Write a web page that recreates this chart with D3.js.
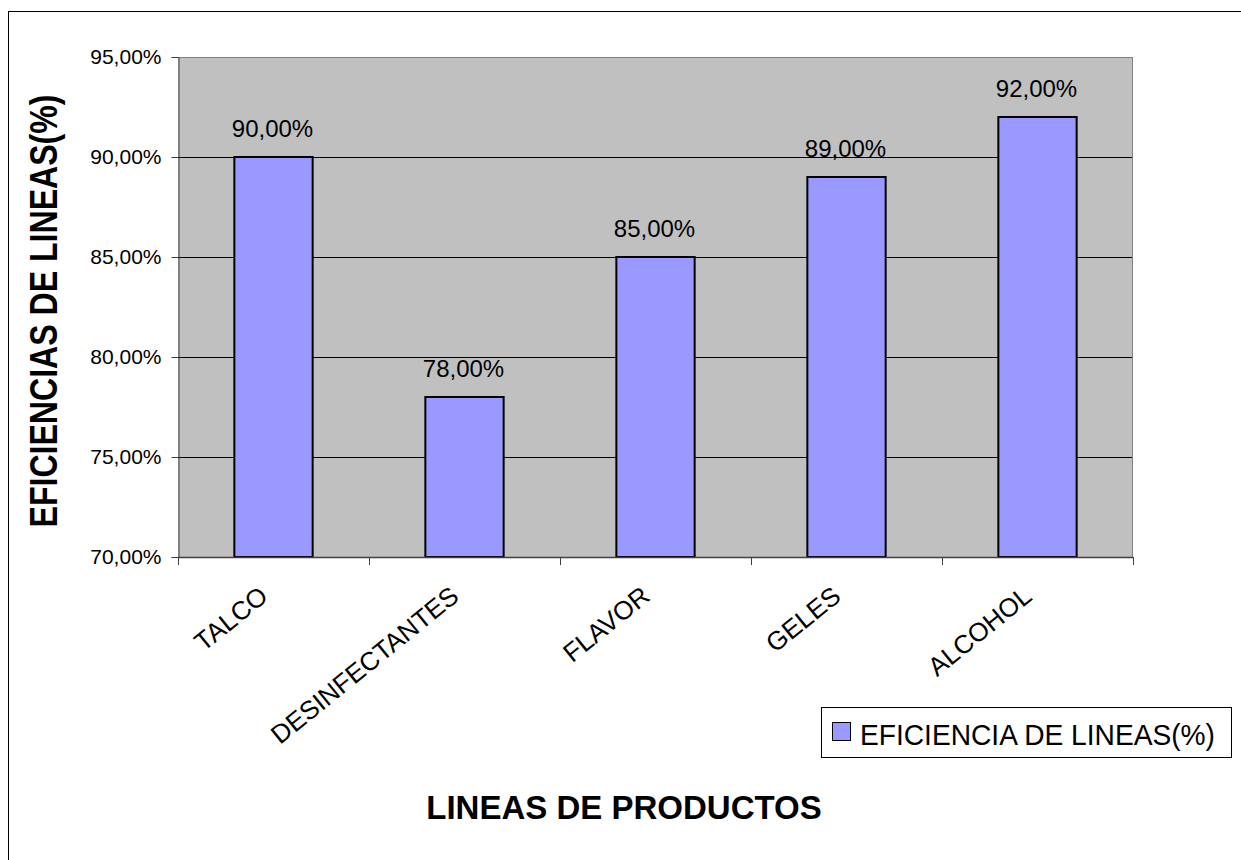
<!DOCTYPE html>
<html>
<head>
<meta charset="utf-8">
<script src="https://cdn.jsdelivr.net/npm/d3@7"></script>
<style>
  html, body { margin: 0; padding: 0; background: #fff; }
  svg { display: block; font-family: "Liberation Sans", Arial, sans-serif; }
</style>
</head>
<body>
<svg id="chart" width="1241" height="860"></svg>
<script>
// Product lines and their line efficiency
const categories = ["TALCO", "DESINFECTANTES", "FLAVOR", "GELES", "ALCOHOL"];
const efficiency = [0.90, 0.78, 0.85, 0.89, 0.92];
const yTicks = [0.70, 0.75, 0.80, 0.85, 0.90, 0.95];
const seriesName = "EFICIENCIA DE LINEAS(%)";
const xTitle = "LINEAS DE PRODUCTOS";
const yTitle = "EFICIENCIAS  DE LINEAS(%)";

const svg = d3.select("#chart");
const plot = { left: 178, top: 57, right: 1133, bottom: 557 };

// outer chart frame
svg.append("rect")
  .attr("x", 8.5).attr("y", 11.5)
  .attr("width", 1400).attr("height", 1000)
  .attr("fill", "#fff").attr("stroke", "#000").attr("stroke-width", 1);

const fmt = v => d3.format(".2f")(v * 100).replace(".", ",") + "%";

const x = d3.scaleBand()
  .domain(categories)
  .range([plot.left, plot.right])
  .paddingInner(0.59)
  .paddingOuter(0.295);

const y = d3.scaleLinear()
  .domain([0.70, 0.95])
  .range([plot.bottom, plot.top]);

// plot background
svg.append("rect")
  .attr("x", plot.left).attr("y", plot.top)
  .attr("width", plot.right - plot.left).attr("height", plot.bottom - plot.top)
  .attr("fill", "#C0C0C0");

// horizontal gridlines
svg.append("g")
  .selectAll("line")
  .data(yTicks.slice(1, -1))
  .join("line")
  .attr("x1", plot.left).attr("x2", plot.right)
  .attr("y1", d => Math.round(y(d)) + 0.5).attr("y2", d => Math.round(y(d)) + 0.5)
  .attr("stroke", "#000").attr("stroke-width", 1);

// top and right edges of the plot area
svg.append("line")
  .attr("x1", plot.left).attr("x2", plot.right)
  .attr("y1", plot.top + 0.5).attr("y2", plot.top + 0.5)
  .attr("stroke", "#808080");
svg.append("line")
  .attr("x1", plot.right - 0.5).attr("x2", plot.right - 0.5)
  .attr("y1", plot.top).attr("y2", plot.bottom)
  .attr("stroke", "#808080");

// bars
svg.append("g")
  .selectAll("rect")
  .data(categories)
  .join("rect")
  .attr("x", d => x(d))
  .attr("y", (d, i) => y(efficiency[i]))
  .attr("width", x.bandwidth())
  .attr("height", (d, i) => y(0.70) - y(efficiency[i]))
  .attr("fill", "#9999FF")
  .attr("stroke", "#000")
  .attr("stroke-width", 2);

// value labels
svg.append("g")
  .selectAll("text")
  .data(categories)
  .join("text")
  .attr("x", d => x(d) + x.bandwidth() / 2 - 1)
  .attr("y", (d, i) => y(efficiency[i]) - 20)
  .attr("text-anchor", "middle")
  .attr("font-size", 24)
  .attr("fill", "#000")
  .text((d, i) => fmt(efficiency[i]));

// y axis
const yAxis = d3.axisLeft(y)
  .tickValues(yTicks)
  .tickFormat(fmt)
  .tickSize(7)
  .tickPadding(10);
const yg = svg.append("g")
  .attr("transform", `translate(${plot.left + 0.5},0)`)
  .call(yAxis);
yg.select(".domain").attr("stroke", "#404040");
yg.selectAll(".tick line").attr("stroke", "#404040");
yg.selectAll(".tick text")
  .attr("font-size", 21)
  .attr("font-family", "\"Liberation Sans\", Arial, sans-serif")
  .attr("fill", "#000");

// x axis baseline and category boundary ticks
svg.append("line")
  .attr("x1", plot.left).attr("x2", plot.right)
  .attr("y1", plot.bottom + 0.5).attr("y2", plot.bottom + 0.5)
  .attr("stroke", "#404040").attr("stroke-width", 1.5);
const boundaries = d3.range(categories.length + 1).map(i => plot.left + i * x.step());
svg.append("g")
  .selectAll("line")
  .data(boundaries)
  .join("line")
  .attr("x1", d => Math.round(d) + 0.5).attr("x2", d => Math.round(d) + 0.5)
  .attr("y1", plot.bottom).attr("y2", plot.bottom + 8)
  .attr("stroke", "#404040");

// rotated category labels
svg.append("g")
  .selectAll("text")
  .data(categories)
  .join("text")
  .attr("text-anchor", "end")
  .attr("font-size", 26)
  .attr("fill", "#000")
  .attr("transform", d => `translate(${x(d) + x.bandwidth() / 2 - 4},${599}) rotate(-39)`)
  .text(d => d);

// legend
const lg = svg.append("g");
lg.append("rect")
  .attr("x", 821.5).attr("y", 707.5).attr("width", 410).attr("height", 50)
  .attr("fill", "#fff").attr("stroke", "#000").attr("stroke-width", 1);
lg.append("rect")
  .attr("x", 832.5).attr("y", 722.5).attr("width", 18).attr("height", 18)
  .attr("fill", "#9999FF").attr("stroke", "#000").attr("stroke-width", 1);
lg.append("text")
  .attr("x", 860).attr("y", 745)
  .attr("font-size", 29)
  .attr("textLength", 355)
  .attr("lengthAdjust", "spacingAndGlyphs")
  .attr("fill", "#000")
  .text(seriesName);

// axis titles
svg.append("text")
  .attr("x", 624).attr("y", 819)
  .attr("text-anchor", "middle")
  .attr("font-size", 33).attr("font-weight", "bold")
  .attr("fill", "#000")
  .text(xTitle);

svg.append("text")
  .attr("transform", "translate(57,311) rotate(-90)")
  .attr("text-anchor", "middle")
  .attr("font-size", 38).attr("font-weight", "bold")
  .attr("textLength", 433)
  .attr("lengthAdjust", "spacingAndGlyphs")
  .attr("fill", "#000")
  .text(yTitle);
</script>
</body>
</html>
